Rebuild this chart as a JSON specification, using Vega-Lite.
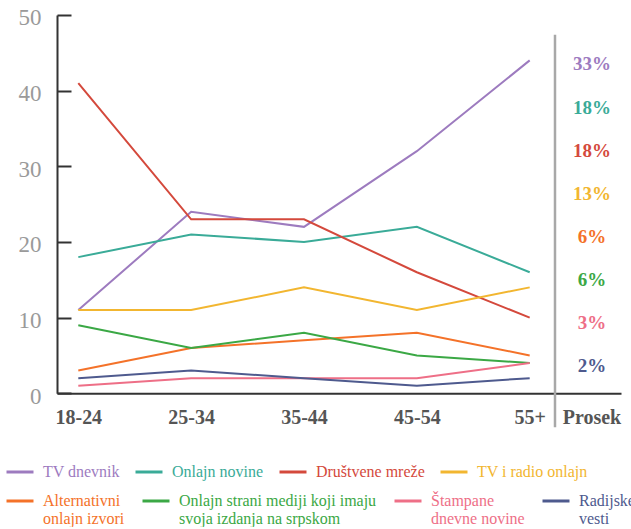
{
  "$schema": "https://vega.github.io/schema/vega-lite/v6.json",
  "padding": {"left": 5, "top": 7, "right": 0, "bottom": 0},
  "config": {
    "view": {"stroke": null},
    "concat": {"spacing": 0},
    "font": "Liberation Serif",
    "legend": {
      "orient": "none",
      "direction": "horizontal",
      "columns": 4,
      "title": null,
      "symbolType": "stroke",
      "symbolSize": 729,
      "symbolStrokeWidth": 3,
      "labelFont": "Liberation Serif",
      "labelFontSize": 16,
      "labelLimit": 400,
      "labelOffset": 8,
      "columnPadding": 9,
      "labelBaseline": "alphabetic"
    }
  },
  "datasets": {
    "starost": [
      {"izvor": "TV dnevnik", "starost": "18-24", "procenat": 11},
      {"izvor": "TV dnevnik", "starost": "25-34", "procenat": 24},
      {"izvor": "TV dnevnik", "starost": "35-44", "procenat": 22},
      {"izvor": "TV dnevnik", "starost": "45-54", "procenat": 32},
      {"izvor": "TV dnevnik", "starost": "55+", "procenat": 44},
      {"izvor": "Onlajn novine", "starost": "18-24", "procenat": 18},
      {"izvor": "Onlajn novine", "starost": "25-34", "procenat": 21},
      {"izvor": "Onlajn novine", "starost": "35-44", "procenat": 20},
      {"izvor": "Onlajn novine", "starost": "45-54", "procenat": 22},
      {"izvor": "Onlajn novine", "starost": "55+", "procenat": 16},
      {"izvor": "Društvene mreže", "starost": "18-24", "procenat": 41},
      {"izvor": "Društvene mreže", "starost": "25-34", "procenat": 23},
      {"izvor": "Društvene mreže", "starost": "35-44", "procenat": 23},
      {"izvor": "Društvene mreže", "starost": "45-54", "procenat": 16},
      {"izvor": "Društvene mreže", "starost": "55+", "procenat": 10},
      {"izvor": "TV i radio onlajn", "starost": "18-24", "procenat": 11},
      {"izvor": "TV i radio onlajn", "starost": "25-34", "procenat": 11},
      {"izvor": "TV i radio onlajn", "starost": "35-44", "procenat": 14},
      {"izvor": "TV i radio onlajn", "starost": "45-54", "procenat": 11},
      {"izvor": "TV i radio onlajn", "starost": "55+", "procenat": 14},
      {"izvor": "Alternativni onlajn izvori", "starost": "18-24", "procenat": 3},
      {"izvor": "Alternativni onlajn izvori", "starost": "25-34", "procenat": 6},
      {"izvor": "Alternativni onlajn izvori", "starost": "35-44", "procenat": 7},
      {"izvor": "Alternativni onlajn izvori", "starost": "45-54", "procenat": 8},
      {"izvor": "Alternativni onlajn izvori", "starost": "55+", "procenat": 5},
      {"izvor": "Onlajn strani mediji koji imaju svoja izdanja na srpskom", "starost": "18-24", "procenat": 9},
      {"izvor": "Onlajn strani mediji koji imaju svoja izdanja na srpskom", "starost": "25-34", "procenat": 6},
      {"izvor": "Onlajn strani mediji koji imaju svoja izdanja na srpskom", "starost": "35-44", "procenat": 8},
      {"izvor": "Onlajn strani mediji koji imaju svoja izdanja na srpskom", "starost": "45-54", "procenat": 5},
      {"izvor": "Onlajn strani mediji koji imaju svoja izdanja na srpskom", "starost": "55+", "procenat": 4},
      {"izvor": "Štampane dnevne novine", "starost": "18-24", "procenat": 1},
      {"izvor": "Štampane dnevne novine", "starost": "25-34", "procenat": 2},
      {"izvor": "Štampane dnevne novine", "starost": "35-44", "procenat": 2},
      {"izvor": "Štampane dnevne novine", "starost": "45-54", "procenat": 2},
      {"izvor": "Štampane dnevne novine", "starost": "55+", "procenat": 4},
      {"izvor": "Radijske vesti", "starost": "18-24", "procenat": 2},
      {"izvor": "Radijske vesti", "starost": "25-34", "procenat": 3},
      {"izvor": "Radijske vesti", "starost": "35-44", "procenat": 2},
      {"izvor": "Radijske vesti", "starost": "45-54", "procenat": 1},
      {"izvor": "Radijske vesti", "starost": "55+", "procenat": 2}
    ],
    "prosek": [
      {"izvor": "TV dnevnik", "prosek": 0.33},
      {"izvor": "Onlajn novine", "prosek": 0.18},
      {"izvor": "Društvene mreže", "prosek": 0.18},
      {"izvor": "TV i radio onlajn", "prosek": 0.13},
      {"izvor": "Alternativni onlajn izvori", "prosek": 0.06},
      {"izvor": "Onlajn strani mediji koji imaju svoja izdanja na srpskom", "prosek": 0.06},
      {"izvor": "Štampane dnevne novine", "prosek": 0.03},
      {"izvor": "Radijske vesti", "prosek": 0.02}
    ],
    "razdelnik": [
      {"kolona": "Prosek"}
    ]
  },
  "resolve": {"scale": {"color": "independent"}},
  "bounds": "flush",
  "hconcat": [
    {
      "width": 498,
      "height": 378.3,
      "data": {"name": "starost"},
      "encoding": {
        "x": {
          "field": "starost",
          "type": "ordinal",
          "scale": {"type": "point", "domain": ["18-24", "25-34", "35-44", "45-54", "55+"], "padding": 0.2065, "align": 0.457},
          "axis": {"title": null, "ticks": false, "domainColor": "#333333", "domainWidth": 2, "labelFont": "Liberation Serif", "labelFontSize": 20, "labelFontWeight": "bold", "labelColor": "#555555", "labelPadding": 14, "labelAngle": 0}
        },
        "y": {
          "field": "procenat",
          "type": "quantitative",
          "scale": {"domain": [0, 50], "nice": false},
          "axis": {"title": null, "grid": false, "values": [0, 10, 20, 30, 40, 50], "tickSize": -14, "tickWidth": 2, "tickColor": "#333333", "domainColor": "#333333", "domainWidth": 2, "labelFont": "Liberation Serif", "labelFontSize": 23, "labelColor": "#9a9a9a", "labelPadding": 30, "labelOffset": 3}
        }
      },
      "layer": [
        {
          "transform": [{"filter": {"field": "izvor", "oneOf": ["TV dnevnik", "Onlajn novine", "Društvene mreže", "TV i radio onlajn"]}}],
          "mark": {"type": "line", "strokeWidth": 2},
          "encoding": {
            "color": {
              "field": "izvor",
              "type": "nominal",
              "scale": {
                "domain": ["TV dnevnik", "Onlajn novine", "Društvene mreže", "TV i radio onlajn"],
                "range": ["#9d7bbf", "#3aab98", "#d4493c", "#f2b630"]
              },
              "legend": {
                "legendX": -52,
                "legendY": 442,
                "encode": {"labels": {"update": {"fill": {"signal": "datum.value == 'TV dnevnik' ? '#9d7bbf' : datum.value == 'Onlajn novine' ? '#3aab98' : datum.value == 'Društvene mreže' ? '#d4493c' : '#f2b630'"}, "dy": {"value": 5}}}}
              }
            }
          }
        },
        {
          "transform": [{"filter": {"field": "izvor", "oneOf": ["Alternativni onlajn izvori", "Onlajn strani mediji koji imaju svoja izdanja na srpskom", "Štampane dnevne novine", "Radijske vesti"]}}],
          "mark": {"type": "line", "strokeWidth": 2},
          "encoding": {
            "color": {
              "field": "izvor",
              "type": "nominal",
              "scale": {
                "domain": ["Alternativni onlajn izvori", "Onlajn strani mediji koji imaju svoja izdanja na srpskom", "Štampane dnevne novine", "Radijske vesti"],
                "range": ["#f47229", "#3ba845", "#ee6f87", "#4e5a8e"]
              },
              "legend": {
                "legendX": -52,
                "legendY": 471,
                "columnPadding": 11,
                "labelExpr": "datum.label == 'Alternativni onlajn izvori' ? ['Alternativni', 'onlajn izvori'] : datum.label == 'Onlajn strani mediji koji imaju svoja izdanja na srpskom' ? ['Onlajn strani mediji koji imaju', 'svoja izdanja na srpskom'] : datum.label == 'Štampane dnevne novine' ? ['Štampane', 'dnevne novine'] : datum.label == 'Radijske vesti' ? ['Radijske', 'vesti'] : datum.label",
                "encode": {"labels": {"update": {"fill": {"signal": "datum.value == 'Alternativni onlajn izvori' ? '#f47229' : datum.value == 'Štampane dnevne novine' ? '#ee6f87' : datum.value == 'Radijske vesti' ? '#4e5a8e' : '#3ba845'"}, "dy": {"value": 5}}}}
              }
            }
          }
        }
      ],
      "resolve": {"scale": {"color": "independent"}}
    },
    {
      "width": 66,
      "height": 378.3,
      "layer": [
        {
          "data": {"name": "prosek"},
          "mark": {"type": "text", "fontWeight": "bold", "fontSize": 19, "font": "Liberation Serif", "dx": 4},
          "encoding": {
            "x": {
              "datum": "Prosek",
              "type": "nominal",
              "scale": {"type": "band", "paddingInner": 0, "paddingOuter": 0},
              "axis": {"title": null, "ticks": false, "domainColor": "#333333", "domainWidth": 2, "labelFont": "Liberation Serif", "labelFontSize": 20, "labelFontWeight": "bold", "labelColor": "#555555", "labelPadding": 14, "labelAngle": 0, "labelOffset": 4}
            },
            "y": {
              "field": "izvor",
              "type": "nominal",
              "scale": {"type": "point", "domain": ["TV dnevnik", "Onlajn novine", "Društvene mreže", "TV i radio onlajn", "Alternativni onlajn izvori", "Onlajn strani mediji koji imaju svoja izdanja na srpskom", "Štampane dnevne novine", "Radijske vesti"], "padding": 0.89, "align": 0.645},
              "axis": null
            },
            "text": {"field": "prosek", "type": "quantitative", "format": ".0%"},
            "color": {
              "field": "izvor",
              "type": "nominal",
              "scale": {
                "domain": ["TV dnevnik", "Onlajn novine", "Društvene mreže", "TV i radio onlajn", "Alternativni onlajn izvori", "Onlajn strani mediji koji imaju svoja izdanja na srpskom", "Štampane dnevne novine", "Radijske vesti"],
                "range": ["#9d7bbf", "#3aab98", "#d4493c", "#f2b630", "#f47229", "#3ba845", "#ee6f87", "#4e5a8e"]
              },
              "legend": null
            }
          }
        },
        {
          "data": {"name": "razdelnik"},
          "mark": {"type": "rule", "color": "#a8a8a8", "strokeWidth": 2.5},
          "encoding": {
            "x": {"field": "kolona", "type": "nominal", "bandPosition": 0},
            "y": {"datum": 47.4, "type": "quantitative", "scale": {"domain": [0, 50], "nice": false}, "axis": null},
            "y2": {"datum": -4.5}
          }
        }
      ],
      "resolve": {"scale": {"y": "independent"}}
    }
  ]
}
